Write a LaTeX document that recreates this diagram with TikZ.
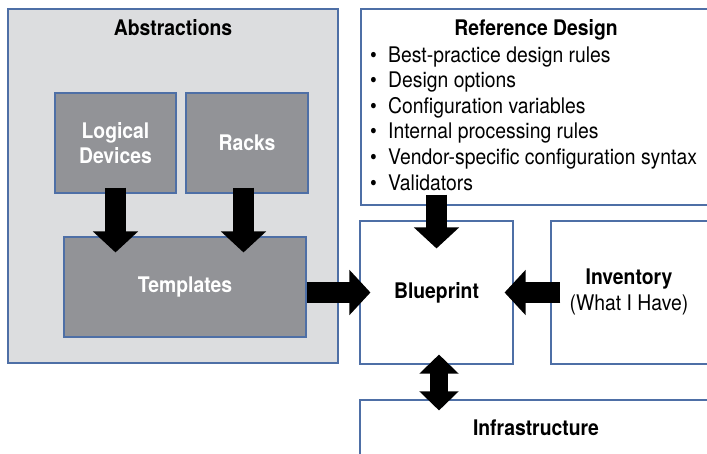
\documentclass[tikz,border=0pt]{standalone}
\usepackage{fontspec}
\setmainfont[FakeStretch=0.9]{TeX Gyre Heros}
\usetikzlibrary{arrows.meta,calc}
\definecolor{absgray}{HTML}{DCDDDF}
\definecolor{partgray}{HTML}{929397}
\definecolor{edgeblue}{HTML}{4E6FA6}
\newcommand\boxfont{\fontsize{21.5}{25.6}\selectfont}
\begin{document}
\begin{tikzpicture}[x=1pt,y=-1pt,
  frame/.style={draw=edgeblue,line width=1.1pt,inner sep=0pt},
  outerbox/.style={frame,fill=absgray},
  innerbox/.style={frame,fill=partgray,text=white,font=\boxfont\bfseries,align=center},
  whitebox/.style={frame,fill=white},
  title/.style={font=\boxfont\bfseries,anchor=base},
  fat/.style={line width=21pt,-{Triangle[width=44pt,length=21pt]}},
  fatboth/.style={line width=18pt,{Triangle[width=38pt,length=19pt]}-{Triangle[width=38pt,length=19pt]}}]
\useasboundingbox (0,0) rectangle (707,453);
\clip (0,0) rectangle (707,453);
% abstractions
\node[outerbox,minimum width=330pt,minimum height=354pt] (abs) at (173,186) {};
\node[title] (abstitle) at (173,35) {Abstractions};
\node[innerbox,minimum width=121pt,minimum height=100pt] (ld) at (115.5,143) {Logical\\Devices};
\node[innerbox,minimum width=122pt,minimum height=100pt] (racks) at (247,143) {Racks};
\node[innerbox,minimum width=242pt,minimum height=100pt] (tmpl) at (185,287) {Templates};
% reference design
\node[whitebox,minimum width=360pt,minimum height=196pt] (ref) at (541,107) {};
\node[title] (reftitle) at (536,35) {Reference Design};
\foreach \txt [count=\i] in {Best-practice design rules, Design options, Configuration variables, Internal processing rules, Vendor-specific configuration syntax, Validators}
  \node[anchor=base west,inner sep=0pt,font=\boxfont] (rule\i) at (370,{62+25.6*(\i-1)}) {\makebox[18pt][l]{\textbullet}\txt};
% blueprint, inventory, infrastructure
\node[whitebox,minimum width=153pt,minimum height=143pt,font=\boxfont\bfseries] (bp) at (436.5,292.5) {Blueprint};
\node[whitebox,minimum width=170pt,minimum height=143pt] (inv) at (636,292.5) {};
\node[font=\boxfont,align=center] (invtext) at (629,292) {\textbf{Inventory}\\(What I Have)};
\node[whitebox,minimum width=360pt,minimum height=80pt] (infra) at (540,440) {};
\node[title] (infratext) at (536,435) {Infrastructure};
% arrows
\draw[fat] ($(ld.south)+(0,-6)$) -- ($(ld.south |- tmpl.north)+(0,16)$);
\draw[fat] ($(racks.south)+(-3.5,-6)$) -- ($(racks.south |- tmpl.north)+(-3.5,16)$);
\draw[fat] (tmpl.east |- bp.west) -- ($(bp.west)+(11,0)$);
\draw[fat] ($(ref.south -| bp.north)+(0,-11)$) -- ($(bp.north)+(0,28)$);
\draw[fat] ($(inv.west)+(10,0)$) -- ($(bp.east)+(-9,0)$);
\draw[fatboth] ($(bp.south)+(2.5,-10)$) -- ($(bp.south |- infra.north)+(2.5,11)$);
\end{tikzpicture}
\end{document}
